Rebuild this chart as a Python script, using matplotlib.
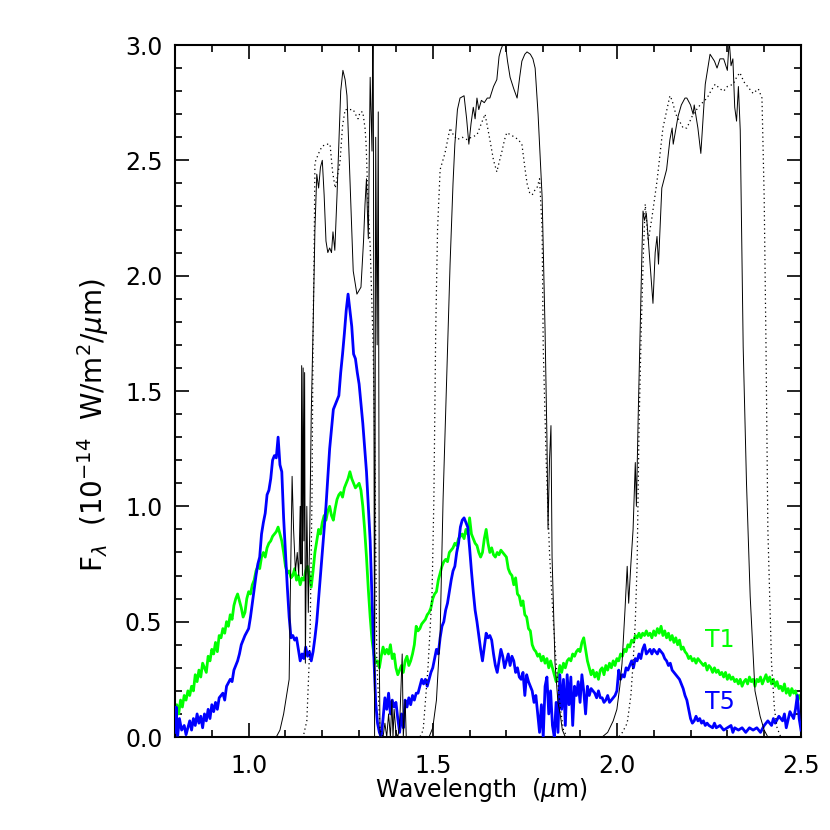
import matplotlib
matplotlib.use("Agg")
import matplotlib.pyplot as plt
from matplotlib.ticker import MultipleLocator, FormatStrFormatter

# ---- data (wavelength in um, flux / transmission in plot units) ----
t1_wave = [0.800, 0.805, 0.810, 0.815, 0.820, 0.825, 0.830, 0.835, 0.840, 0.845, 0.850, 0.855, 0.860, 0.865, 0.870,
           0.875, 0.880, 0.885, 0.890, 0.895, 0.900, 0.905, 0.910, 0.915, 0.920, 0.925, 0.930, 0.935, 0.940, 0.945,
           0.950, 0.955, 0.960, 0.965, 0.970, 0.975, 0.980, 0.985, 0.990, 0.995, 1.000, 1.005, 1.010, 1.015, 1.020,
           1.025, 1.030, 1.035, 1.040, 1.045, 1.050, 1.055, 1.060, 1.065, 1.070, 1.075, 1.080, 1.085, 1.090, 1.095,
           1.100, 1.105, 1.110, 1.115, 1.120, 1.125, 1.130, 1.135, 1.140, 1.145, 1.150, 1.155, 1.160, 1.165, 1.170,
           1.175, 1.180, 1.185, 1.190, 1.195, 1.200, 1.205, 1.210, 1.215, 1.220, 1.225, 1.230, 1.235, 1.240, 1.245,
           1.250, 1.255, 1.260, 1.265, 1.270, 1.275, 1.280, 1.285, 1.290, 1.295, 1.300, 1.305, 1.310, 1.315, 1.320,
           1.325, 1.330, 1.335, 1.340, 1.345, 1.350, 1.355, 1.360, 1.365, 1.370, 1.375, 1.380, 1.385, 1.390, 1.395,
           1.400, 1.405, 1.410, 1.415, 1.420, 1.425, 1.430, 1.435, 1.440, 1.445, 1.450, 1.455, 1.460, 1.465, 1.470,
           1.475, 1.480, 1.485, 1.490, 1.495, 1.500, 1.505, 1.510, 1.515, 1.520, 1.525, 1.530, 1.535, 1.540, 1.545,
           1.550, 1.555, 1.560, 1.565, 1.570, 1.575, 1.580, 1.585, 1.590, 1.595, 1.600, 1.605, 1.610, 1.615, 1.620,
           1.625, 1.630, 1.635, 1.640, 1.645, 1.650, 1.655, 1.660, 1.665, 1.670, 1.675, 1.680, 1.685, 1.690, 1.695,
           1.700, 1.705, 1.710, 1.715, 1.720, 1.725, 1.730, 1.735, 1.740, 1.745, 1.750, 1.755, 1.760, 1.765, 1.770,
           1.775, 1.780, 1.785, 1.790, 1.795, 1.800, 1.805, 1.810, 1.815, 1.820, 1.825, 1.830, 1.835, 1.840, 1.845,
           1.850, 1.855, 1.860, 1.865, 1.870, 1.875, 1.880, 1.885, 1.890, 1.895, 1.900, 1.905, 1.910, 1.915, 1.920,
           1.925, 1.930, 1.935, 1.940, 1.945, 1.950, 1.955, 1.960, 1.965, 1.970, 1.975, 1.980, 1.985, 1.990, 1.995,
           2.000, 2.005, 2.010, 2.015, 2.020, 2.025, 2.030, 2.035, 2.040, 2.045, 2.050, 2.055, 2.060, 2.065, 2.070,
           2.075, 2.080, 2.085, 2.090, 2.095, 2.100, 2.105, 2.110, 2.115, 2.120, 2.125, 2.130, 2.135, 2.140, 2.145,
           2.150, 2.155, 2.160, 2.165, 2.170, 2.175, 2.180, 2.185, 2.190, 2.195, 2.200, 2.205, 2.210, 2.215, 2.220,
           2.225, 2.230, 2.235, 2.240, 2.245, 2.250, 2.255, 2.260, 2.265, 2.270, 2.275, 2.280, 2.285, 2.290, 2.295,
           2.300, 2.305, 2.310, 2.315, 2.320, 2.325, 2.330, 2.335, 2.340, 2.345, 2.350, 2.355, 2.360, 2.365, 2.370,
           2.375, 2.380, 2.385, 2.390, 2.395, 2.400, 2.405, 2.410, 2.415, 2.420, 2.425, 2.430, 2.435, 2.440, 2.445,
           2.450, 2.455, 2.460, 2.465, 2.470, 2.475, 2.480, 2.485, 2.490, 2.495, 2.500]
t1_flux = [0.08, 0.14, 0.10, 0.16, 0.13, 0.18, 0.16, 0.20, 0.18, 0.22, 0.20, 0.27, 0.24, 0.29, 0.26,
           0.32, 0.30, 0.28, 0.35, 0.33, 0.38, 0.36, 0.41, 0.37, 0.44, 0.43, 0.47, 0.45, 0.50, 0.48,
           0.53, 0.51, 0.57, 0.60, 0.62, 0.59, 0.56, 0.52, 0.54, 0.60, 0.63, 0.62, 0.66, 0.68, 0.72,
           0.74, 0.73, 0.78, 0.80, 0.78, 0.82, 0.84, 0.85, 0.87, 0.88, 0.89, 0.91, 0.88, 0.85, 0.80,
           0.74, 0.71, 0.72, 0.69, 0.70, 0.73, 0.68, 0.70, 0.66, 0.69, 0.68, 0.72, 0.74, 0.70, 0.65,
           0.72, 0.80, 0.85, 0.90, 0.88, 0.93, 0.96, 0.94, 0.98, 1.00, 0.96, 0.94, 0.99, 1.03, 1.05,
           1.06, 1.04, 1.08, 1.10, 1.12, 1.15, 1.12, 1.10, 1.08, 1.09, 1.10, 1.07, 1.00, 0.90, 0.78,
           0.64, 0.52, 0.42, 0.36, 0.32, 0.33, 0.30, 0.35, 0.39, 0.36, 0.38, 0.36, 0.40, 0.34, 0.36,
           0.30, 0.27, 0.29, 0.31, 0.28, 0.33, 0.35, 0.31, 0.33, 0.36, 0.40, 0.48, 0.46, 0.47, 0.49,
           0.50, 0.51, 0.53, 0.54, 0.56, 0.60, 0.62, 0.63, 0.68, 0.71, 0.74, 0.76, 0.77, 0.76, 0.80,
           0.81, 0.82, 0.84, 0.83, 0.86, 0.87, 0.88, 0.86, 0.90, 0.88, 0.95, 0.88, 0.86, 0.84, 0.83,
           0.80, 0.78, 0.80, 0.86, 0.90, 0.84, 0.80, 0.82, 0.79, 0.78, 0.80, 0.79, 0.81, 0.80, 0.79,
           0.78, 0.73, 0.71, 0.70, 0.66, 0.69, 0.62, 0.61, 0.57, 0.59, 0.53, 0.52, 0.47, 0.46, 0.40,
           0.38, 0.37, 0.35, 0.36, 0.33, 0.35, 0.32, 0.34, 0.30, 0.33, 0.30, 0.27, 0.24, 0.26, 0.31,
           0.28, 0.32, 0.30, 0.33, 0.34, 0.33, 0.36, 0.35, 0.37, 0.38, 0.37, 0.41, 0.43, 0.38, 0.33,
           0.30, 0.27, 0.29, 0.26, 0.28, 0.25, 0.29, 0.30, 0.27, 0.31, 0.29, 0.32, 0.30, 0.33, 0.31,
           0.34, 0.33, 0.36, 0.35, 0.38, 0.37, 0.40, 0.39, 0.42, 0.41, 0.44, 0.43, 0.45, 0.43, 0.45,
           0.44, 0.46, 0.44, 0.45, 0.43, 0.46, 0.44, 0.47, 0.45, 0.48, 0.44, 0.46, 0.43, 0.45, 0.42,
           0.44, 0.41, 0.43, 0.40, 0.42, 0.38, 0.39, 0.37, 0.36, 0.34, 0.35, 0.33, 0.34, 0.32, 0.34,
           0.33, 0.32, 0.31, 0.32, 0.29, 0.31, 0.30, 0.28, 0.30, 0.28, 0.29, 0.27, 0.28, 0.26, 0.28,
           0.25, 0.27, 0.25, 0.26, 0.24, 0.25, 0.23, 0.25, 0.22, 0.24, 0.25, 0.23, 0.26, 0.24, 0.25,
           0.22, 0.25, 0.24, 0.26, 0.23, 0.25, 0.27, 0.24, 0.26, 0.23, 0.25, 0.22, 0.24, 0.21, 0.22,
           0.20, 0.23, 0.19, 0.21, 0.18, 0.21, 0.19, 0.20, 0.17, 0.18, 0.16]

t5_wave = [0.800, 0.803, 0.807, 0.812, 0.818, 0.825, 0.830, 0.835, 0.840, 0.845, 0.850, 0.855, 0.860, 0.865, 0.870,
           0.875, 0.880, 0.885, 0.890, 0.895, 0.900, 0.905, 0.910, 0.915, 0.920, 0.930, 0.935, 0.940, 0.950, 0.955,
           0.960, 0.970, 0.975, 0.980, 0.990, 1.000, 1.005, 1.010, 1.020, 1.025, 1.030, 1.035, 1.040, 1.045, 1.050,
           1.055, 1.060, 1.065, 1.070, 1.075, 1.080, 1.085, 1.090, 1.095, 1.100, 1.105, 1.110, 1.115, 1.120, 1.125,
           1.130, 1.135, 1.140, 1.145, 1.150, 1.155, 1.160, 1.165, 1.170, 1.175, 1.180, 1.185, 1.190, 1.200, 1.210,
           1.220, 1.230, 1.240, 1.245, 1.250, 1.255, 1.260, 1.265, 1.270, 1.275, 1.280, 1.285, 1.290, 1.295, 1.300,
           1.310, 1.320, 1.330, 1.335, 1.340, 1.345, 1.350, 1.355, 1.360, 1.365, 1.370, 1.375, 1.380, 1.385, 1.390,
           1.395, 1.400, 1.405, 1.410, 1.415, 1.420, 1.425, 1.430, 1.435, 1.440, 1.445, 1.450, 1.455, 1.460, 1.465,
           1.470, 1.475, 1.480, 1.485, 1.490, 1.495, 1.500, 1.505, 1.510, 1.515, 1.520, 1.525, 1.530, 1.535, 1.540,
           1.545, 1.550, 1.555, 1.560, 1.565, 1.570, 1.575, 1.580, 1.585, 1.590, 1.595, 1.600, 1.605, 1.610, 1.615,
           1.620, 1.625, 1.630, 1.635, 1.640, 1.645, 1.650, 1.655, 1.660, 1.665, 1.670, 1.675, 1.680, 1.685, 1.690,
           1.695, 1.700, 1.705, 1.710, 1.715, 1.720, 1.725, 1.730, 1.735, 1.740, 1.745, 1.750, 1.755, 1.760, 1.765,
           1.770, 1.775, 1.780, 1.785, 1.790, 1.795, 1.800, 1.805, 1.810, 1.815, 1.820, 1.825, 1.830, 1.835, 1.840,
           1.845, 1.850, 1.855, 1.860, 1.865, 1.870, 1.875, 1.880, 1.885, 1.890, 1.895, 1.900, 1.905, 1.910, 1.915,
           1.920, 1.925, 1.930, 1.935, 1.940, 1.945, 1.950, 1.955, 1.960, 1.965, 1.970, 1.975, 1.980, 1.985, 1.990,
           1.995, 2.000, 2.005, 2.010, 2.015, 2.020, 2.025, 2.030, 2.035, 2.040, 2.045, 2.050, 2.055, 2.060, 2.065,
           2.070, 2.075, 2.080, 2.085, 2.090, 2.095, 2.100, 2.105, 2.110, 2.115, 2.120, 2.125, 2.130, 2.135, 2.140,
           2.145, 2.150, 2.155, 2.160, 2.165, 2.170, 2.175, 2.180, 2.185, 2.190, 2.195, 2.200, 2.205, 2.210, 2.215,
           2.220, 2.225, 2.230, 2.235, 2.240, 2.245, 2.250, 2.260, 2.265, 2.270, 2.280, 2.290, 2.300, 2.310, 2.315,
           2.320, 2.330, 2.340, 2.350, 2.360, 2.370, 2.380, 2.390, 2.400, 2.410, 2.420, 2.425, 2.430, 2.440, 2.450,
           2.455, 2.460, 2.470, 2.480, 2.485, 2.490, 2.495, 2.500]
t5_flux = [0.02, 0.13, 0.00, 0.08, 0.03, 0.05, 0.01, 0.04, 0.07, 0.03, 0.08, 0.05, 0.10, 0.06, 0.09,
           0.04, 0.10, 0.07, 0.12, 0.08, 0.14, 0.11, 0.15, 0.12, 0.17, 0.19, 0.16, 0.22, 0.25, 0.24,
           0.29, 0.33, 0.36, 0.40, 0.44, 0.47, 0.52, 0.58, 0.70, 0.75, 0.78, 0.88, 0.93, 0.97, 1.05,
           1.07, 1.12, 1.20, 1.22, 1.21, 1.30, 1.18, 1.15, 0.95, 0.80, 0.65, 0.52, 0.43, 0.44, 0.42,
           0.43, 0.38, 0.33, 0.36, 0.34, 0.39, 0.35, 0.37, 0.33, 0.37, 0.43, 0.50, 0.60, 0.80, 1.00,
           1.25, 1.42, 1.46, 1.48, 1.58, 1.66, 1.75, 1.85, 1.92, 1.85, 1.78, 1.66, 1.64, 1.58, 1.53,
           1.36, 1.15, 0.85, 0.60, 0.35, 0.15, 0.06, 0.02, 0.00, 0.08, 0.17, 0.12, 0.19, 0.10, 0.16,
           0.13, 0.15, 0.08, 0.02, 0.10, 0.04, 0.16, 0.13, 0.17, 0.14, 0.18, 0.16, 0.19, 0.19, 0.22,
           0.25, 0.23, 0.25, 0.22, 0.25, 0.28, 0.30, 0.34, 0.38, 0.36, 0.43, 0.48, 0.50, 0.55, 0.58,
           0.63, 0.68, 0.72, 0.74, 0.80, 0.84, 0.91, 0.94, 0.95, 0.93, 0.91, 0.82, 0.72, 0.63, 0.55,
           0.50, 0.44, 0.38, 0.33, 0.39, 0.45, 0.43, 0.44, 0.42, 0.36, 0.31, 0.28, 0.33, 0.38, 0.35,
           0.30, 0.33, 0.36, 0.31, 0.35, 0.33, 0.28, 0.30, 0.26, 0.25, 0.28, 0.18, 0.27, 0.24, 0.22,
           0.20, 0.15, 0.18, 0.10, 0.02, 0.14, 0.00, 0.22, 0.26, 0.10, 0.20, 0.05, 0.00, 0.15, 0.02,
           0.27, 0.12, 0.25, 0.05, 0.27, 0.14, 0.26, 0.05, 0.22, 0.18, 0.24, 0.15, 0.27, 0.20, 0.10,
           0.22, 0.18, 0.21, 0.20, 0.19, 0.17, 0.20, 0.17, 0.17, 0.15, 0.16, 0.18, 0.15, 0.16, 0.17,
           0.18, 0.20, 0.29, 0.25, 0.27, 0.26, 0.30, 0.29, 0.31, 0.33, 0.30, 0.34, 0.33, 0.36, 0.34,
           0.38, 0.40, 0.36, 0.37, 0.38, 0.36, 0.38, 0.37, 0.36, 0.38, 0.37, 0.36, 0.34, 0.33, 0.31,
           0.32, 0.29, 0.28, 0.27, 0.26, 0.25, 0.23, 0.21, 0.18, 0.16, 0.12, 0.08, 0.06, 0.07, 0.09,
           0.07, 0.08, 0.06, 0.07, 0.05, 0.06, 0.05, 0.04, 0.06, 0.04, 0.05, 0.03, 0.04, 0.05, 0.02,
           0.04, 0.03, 0.04, 0.02, 0.04, 0.03, 0.04, 0.02, 0.05, 0.07, 0.05, 0.08, 0.06, 0.09, 0.07,
           0.10, 0.04, 0.11, 0.08, 0.12, 0.18, 0.08, 0.03]

# solid filter curves (J, H, K) scaled to the flux axis
filt_solid_wave = [0.800, 1.075, 1.085, 1.095, 1.105, 1.110, 1.113, 1.118, 1.122, 1.127, 1.132, 1.136, 1.140, 1.142,
                   1.144, 1.146, 1.148, 1.150, 1.152, 1.154, 1.158, 1.162, 1.166, 1.170, 1.175, 1.180, 1.185, 1.190,
                   1.195, 1.200, 1.205, 1.210, 1.215, 1.220, 1.225, 1.229, 1.234, 1.240, 1.245, 1.250, 1.256, 1.262,
                   1.267, 1.275, 1.284, 1.294, 1.305, 1.312, 1.316, 1.320, 1.322, 1.325, 1.330, 1.335, 1.338, 1.342,
                   1.345, 1.349, 1.352, 1.355, 1.357, 1.365, 1.370, 1.375, 1.380, 1.385, 1.389, 1.392, 1.395, 1.400,
                   1.405, 1.410, 1.417, 1.420, 1.425, 1.428, 1.435, 1.490, 1.500, 1.510, 1.520, 1.528, 1.535, 1.542,
                   1.547, 1.555, 1.560, 1.567, 1.574, 1.585, 1.592, 1.598, 1.604, 1.610, 1.615, 1.620, 1.625, 1.632,
                   1.640, 1.648, 1.655, 1.665, 1.674, 1.680, 1.685, 1.690, 1.696, 1.703, 1.710, 1.720, 1.729, 1.736,
                   1.742, 1.750, 1.756, 1.765, 1.772, 1.778, 1.786, 1.797, 1.805, 1.810, 1.813, 1.817, 1.821, 1.824,
                   1.832, 1.840, 1.846, 1.852, 1.860, 1.960, 1.975, 1.990, 2.000, 2.008, 2.014, 2.022, 2.028, 2.032,
                   2.038, 2.044, 2.050, 2.053, 2.058, 2.063, 2.068, 2.071, 2.075, 2.080, 2.090, 2.098, 2.104, 2.109,
                   2.113, 2.122, 2.135, 2.144, 2.150, 2.153, 2.166, 2.175, 2.185, 2.190, 2.200, 2.207, 2.210, 2.220,
                   2.228, 2.240, 2.253, 2.265, 2.272, 2.280, 2.290, 2.300, 2.305, 2.310, 2.315, 2.320, 2.325, 2.330,
                   2.335, 2.343, 2.352, 2.362, 2.375, 2.389, 2.400, 2.410, 2.500]
filt_solid_trans = [0.00, 0.00, 0.03, 0.10, 0.20, 0.25, 0.60, 1.13, 0.90, 0.72, 0.80, 0.70, 1.00, 0.75,
                    1.61, 0.70, 1.60, 0.85, 1.58, 0.32, 1.00, 0.54, 0.90, 1.40, 1.77, 2.20, 2.44, 2.38,
                    2.47, 2.50, 2.35, 2.15, 2.10, 2.12, 2.10, 2.19, 2.11, 2.35, 2.57, 2.80, 2.89, 2.85,
                    2.78, 2.42, 2.02, 1.92, 1.95, 2.15, 2.31, 2.42, 2.30, 2.16, 2.86, 2.54, 3.30, 0.00,
                    2.60, 1.70, 2.71, 0.30, 0.00, 0.00, 0.06, 0.00, 0.10, 0.00, 0.16, 0.00, 0.12, 0.02,
                    0.00, 0.05, 0.36, 0.00, 0.16, 0.00, 0.00, 0.00, 0.04, 0.16, 0.45, 1.03, 1.40, 1.76,
                    2.05, 2.40, 2.57, 2.72, 2.77, 2.78, 2.68, 2.57, 2.66, 2.73, 2.68, 2.77, 2.72, 2.76,
                    2.75, 2.77, 2.77, 2.82, 2.85, 2.95, 2.98, 3.00, 3.02, 2.93, 2.86, 2.81, 2.77, 2.86,
                    2.93, 2.96, 2.97, 2.96, 2.94, 2.90, 2.70, 2.34, 1.76, 1.30, 0.90, 1.20, 1.35, 0.78,
                    0.32, 0.15, 0.10, 0.03, 0.00, 0.00, 0.02, 0.07, 0.12, 0.22, 0.32, 0.55, 0.74, 0.58,
                    0.75, 0.90, 1.19, 1.00, 1.40, 1.76, 2.10, 2.28, 2.24, 2.27, 2.05, 1.88, 2.10, 2.17,
                    2.05, 2.38, 2.46, 2.59, 2.64, 2.57, 2.69, 2.74, 2.77, 2.77, 2.74, 2.70, 2.74, 2.64,
                    2.53, 2.83, 2.96, 2.93, 2.90, 2.94, 2.94, 2.89, 3.02, 2.91, 2.94, 2.73, 2.67, 2.82,
                    2.63, 1.69, 1.10, 0.61, 0.20, 0.09, 0.03, 0.00, 0.00]

# dotted filter curves (J, H, Ks)
filt_dot_wave = [0.800, 1.148, 1.158, 1.165, 1.167, 1.172, 1.175, 1.178, 1.180, 1.190, 1.199, 1.210, 1.221, 1.228,
                 1.235, 1.242, 1.248, 1.255, 1.262, 1.275, 1.284, 1.290, 1.297, 1.303, 1.310, 1.316, 1.319, 1.325,
                 1.330, 1.338, 1.343, 1.348, 1.357, 1.365, 1.465, 1.474, 1.487, 1.498, 1.503, 1.508, 1.513, 1.520,
                 1.533, 1.547, 1.556, 1.566, 1.580, 1.593, 1.605, 1.620, 1.632, 1.642, 1.648, 1.655, 1.665, 1.674,
                 1.680, 1.688, 1.695, 1.701, 1.712, 1.723, 1.732, 1.742, 1.750, 1.756, 1.763, 1.770, 1.777, 1.783,
                 1.790, 1.797, 1.800, 1.808, 1.817, 1.827, 1.836, 1.846, 1.855, 1.865, 2.005, 2.015, 2.028, 2.038,
                 2.044, 2.050, 2.055, 2.060, 2.066, 2.072, 2.077, 2.085, 2.095, 2.109, 2.125, 2.144, 2.150, 2.160,
                 2.170, 2.180, 2.190, 2.207, 2.226, 2.245, 2.255, 2.267, 2.280, 2.290, 2.300, 2.316, 2.325, 2.334,
                 2.345, 2.355, 2.370, 2.384, 2.394, 2.400, 2.405, 2.410, 2.420, 2.428, 2.435, 2.445, 2.500]
filt_dot_trans = [0.00, 0.00, 0.07, 0.35, 0.46, 1.04, 1.76, 2.13, 2.49, 2.53, 2.56, 2.57, 2.57, 2.45,
                  2.38, 2.44, 2.49, 2.65, 2.72, 2.72, 2.72, 2.70, 2.68, 2.71, 2.71, 2.64, 2.57, 2.28,
                  2.13, 1.70, 1.19, 0.32, 0.03, 0.00, 0.00, 0.03, 0.30, 0.62, 1.03, 1.76, 2.20, 2.46,
                  2.53, 2.64, 2.61, 2.59, 2.60, 2.59, 2.60, 2.61, 2.66, 2.70, 2.65, 2.59, 2.50, 2.45,
                  2.49, 2.54, 2.59, 2.62, 2.61, 2.60, 2.59, 2.57, 2.47, 2.40, 2.36, 2.35, 2.37, 2.38,
                  2.42, 2.20, 1.69, 1.20, 0.80, 0.51, 0.30, 0.13, 0.03, 0.00, 0.00, 0.02, 0.06, 0.18,
                  0.32, 0.50, 0.75, 1.33, 1.76, 2.10, 2.31, 2.15, 2.25, 2.41, 2.64, 2.78, 2.76, 2.70,
                  2.67, 2.64, 2.64, 2.70, 2.74, 2.77, 2.80, 2.83, 2.81, 2.80, 2.82, 2.83, 2.86, 2.88,
                  2.84, 2.82, 2.79, 2.81, 2.77, 2.34, 1.69, 0.90, 0.32, 0.12, 0.04, 0.00, 0.00]

x_ticks = [1.0, 1.5, 2.0, 2.5]
y_ticks = [0.0, 0.5, 1.0, 1.5, 2.0, 2.5, 3.0]

plt.rcParams.update({"font.family": "DejaVu Sans", "font.size": 17, "mathtext.fontset": "dejavusans"})

fig = plt.figure(figsize=(8.3, 8.3), dpi=100)
ax = fig.add_axes([175 / 830, 93 / 830, 626 / 830, 692 / 830])

ax.plot(t1_wave, t1_flux, color=(0, 1, 0), lw=2.0, zorder=2)
ax.plot(t5_wave, t5_flux, color=(0, 0, 1), lw=2.0, zorder=3)
ax.plot(filt_solid_wave, filt_solid_trans, color="black", lw=0.7, zorder=4)
ax.plot(filt_dot_wave, filt_dot_trans, color="black", lw=0.9, ls=(0, (1, 2.5)), zorder=4)

ax.text(2.239, 0.42, "T1", color=(0, 1, 0), fontsize=17, va="center", ha="left")
ax.text(2.239, 0.15, "T5", color=(0, 0, 1), fontsize=17, va="center", ha="left")

ax.set_xlim(0.8, 2.5)
ax.set_ylim(0.0, 3.0)
ax.set_xticks(x_ticks)
ax.set_yticks(y_ticks)
ax.xaxis.set_minor_locator(MultipleLocator(0.1))
ax.yaxis.set_minor_locator(MultipleLocator(0.1))
ax.xaxis.set_major_formatter(FormatStrFormatter("%.1f"))
ax.yaxis.set_major_formatter(FormatStrFormatter("%.1f"))
ax.tick_params(which="both", direction="in", top=True, right=True, width=1.2)
ax.tick_params(which="major", length=10)
ax.tick_params(which="minor", length=5)
ax.tick_params(axis="x", which="major", pad=12)
ax.tick_params(axis="y", which="major", pad=9)
for sp in ax.spines.values():
    sp.set_linewidth(1.5)

ax.set_xlabel(r"Wavelength  ($\mu$m)")
ax.set_ylabel(r"F$_\lambda$  (10$^{-14}$  W/m$^2$/$\mu$m)", fontsize=20)
ax.xaxis.set_label_coords(0.49, -0.056)
ax.yaxis.set_label_coords(-0.102, 0.451)

fig.savefig("out.png", dpi=100)
